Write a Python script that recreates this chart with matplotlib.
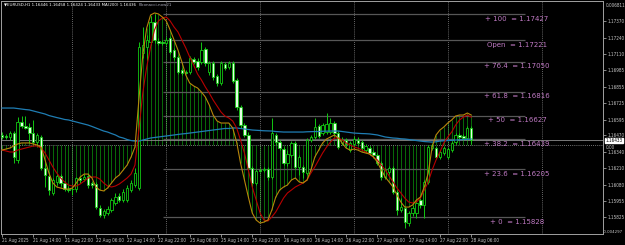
import numpy as np
import pandas as pd
import matplotlib
matplotlib.use("Agg")
import matplotlib.pyplot as plt
from matplotlib import font_manager as fm

# --- data (EURUSD H1) ---
times = pd.date_range("2025-08-21 06:00", "2025-08-22 23:00", freq="h").append(
    pd.date_range("2025-08-25 00:00", "2025-08-28 06:00", freq="h"))

opens = [
    1.16474, 1.16466, 1.16458, 1.16489, 1.16277, 1.16576, 1.16545, 1.16537, 1.16489, 1.16418,
    1.16458, 1.16214, 1.16151, 1.16017, 1.16104, 1.16151, 1.16096, 1.16052, 1.16050, 1.16048,
    1.16135, 1.16127, 1.16151, 1.16096, 1.16088, 1.15899, 1.15843, 1.15859, 1.15883, 1.15938,
    1.15993, 1.15962, 1.15962, 1.16041, 1.16080, 1.16056, 1.17120, 1.17167, 1.17206, 1.17364,
    1.17214, 1.17210, 1.17198, 1.17238, 1.17143, 1.17088, 1.16986, 1.16970, 1.16970, 1.17072,
    1.17057, 1.17049, 1.17151, 1.16970, 1.17041, 1.16939, 1.16883, 1.17033, 1.17009, 1.17041,
    1.16907, 1.16694, 1.16552, 1.16474, 1.16214, 1.16096, 1.16198, 1.16198, 1.16206, 1.16143,
    1.16474, 1.16418, 1.16363, 1.16253, 1.16316, 1.16411, 1.16222, 1.16222, 1.16174, 1.16434,
    1.16458, 1.16545, 1.16489, 1.16497, 1.16497, 1.16568, 1.16489, 1.16411, 1.16434, 1.16355,
    1.16403, 1.16434, 1.16418, 1.16355, 1.16371, 1.16340, 1.16316, 1.16253, 1.16143, 1.16182,
    1.16214, 1.16025, 1.15883, 1.15899, 1.15780, 1.15859, 1.15859, 1.15962, 1.15922, 1.16104,
    1.16371, 1.16371, 1.16300, 1.16332, 1.16300, 1.16355, 1.16418, 1.16474, 1.16466, 1.16450,
    1.16529]
highs = [
    1.16497, 1.16482, 1.16505, 1.16505, 1.16615, 1.16623, 1.16623, 1.16568, 1.16592, 1.16489,
    1.16474, 1.16277, 1.16182, 1.16135, 1.16166, 1.16166, 1.16111, 1.16072, 1.16064, 1.16143,
    1.16151, 1.16166, 1.16174, 1.16111, 1.16104, 1.15922, 1.15891, 1.15914, 1.15977, 1.16017,
    1.16017, 1.16048, 1.16080, 1.16119, 1.16214, 1.17206, 1.17324, 1.17261, 1.17410, 1.17427,
    1.17238, 1.17222, 1.17246, 1.17253, 1.17159, 1.17104, 1.17001, 1.16986, 1.17096, 1.17088,
    1.17080, 1.17206, 1.17167, 1.17057, 1.17057, 1.16954, 1.17057, 1.17049, 1.17057, 1.17057,
    1.16923, 1.16710, 1.16568, 1.16497, 1.16229, 1.16206, 1.16214, 1.16222, 1.16222, 1.16608,
    1.16489, 1.16434, 1.16379, 1.16355, 1.16426, 1.16426, 1.16316, 1.16237, 1.16450, 1.16474,
    1.16608, 1.16560, 1.16568, 1.16647, 1.16608, 1.16584, 1.16505, 1.16458, 1.16450, 1.16426,
    1.16466, 1.16458, 1.16434, 1.16403, 1.16387, 1.16355, 1.16332, 1.16269, 1.16214, 1.16229,
    1.16229, 1.16041, 1.15977, 1.15914, 1.15875, 1.15922, 1.15962, 1.15977, 1.16119, 1.16395,
    1.16411, 1.16387, 1.16355, 1.16387, 1.16379, 1.16426, 1.16489, 1.16489, 1.16482, 1.16545,
    1.16545]
lows = [
    1.16442, 1.16442, 1.16434, 1.16253, 1.16253, 1.16529, 1.16521, 1.16411, 1.16387, 1.16379,
    1.16198, 1.16064, 1.16001, 1.16001, 1.16080, 1.16072, 1.16033, 1.16025, 1.16001, 1.16025,
    1.16096, 1.16111, 1.16056, 1.16056, 1.15891, 1.15828, 1.15820, 1.15843, 1.15867, 1.15922,
    1.15946, 1.15946, 1.15946, 1.16025, 1.16064, 1.16041, 1.17080, 1.17064, 1.17183, 1.17198,
    1.17183, 1.17183, 1.17183, 1.17112, 1.17064, 1.16954, 1.16946, 1.16954, 1.16954, 1.17033,
    1.16986, 1.17033, 1.17017, 1.16946, 1.16907, 1.16860, 1.16867, 1.16986, 1.16994, 1.16883,
    1.16671, 1.16529, 1.16458, 1.16198, 1.16064, 1.16080, 1.16182, 1.16182, 1.16119, 1.16127,
    1.16395, 1.16355, 1.16237, 1.16229, 1.16300, 1.16206, 1.16159, 1.16135, 1.16159, 1.16418,
    1.16442, 1.16450, 1.16474, 1.16482, 1.16482, 1.16466, 1.16363, 1.16395, 1.16379, 1.16340,
    1.16387, 1.16395, 1.16355, 1.16340, 1.16316, 1.16292, 1.16237, 1.16119, 1.16127, 1.16166,
    1.16009, 1.15843, 1.15867, 1.15741, 1.15757, 1.15835, 1.15820, 1.15899, 1.15820, 1.16088,
    1.16355, 1.16285, 1.16285, 1.16316, 1.16285, 1.16340, 1.16403, 1.16442, 1.16434, 1.16434,
    1.16403]
closes = [
    1.16458, 1.16455, 1.16489, 1.16300, 1.16576, 1.16545, 1.16529, 1.16489, 1.16418, 1.16474,
    1.16214, 1.16159, 1.16041, 1.16119, 1.16151, 1.16096, 1.16048, 1.16044, 1.16046, 1.16135,
    1.16119, 1.16143, 1.16080, 1.16080, 1.15906, 1.15843, 1.15875, 1.15891, 1.15962, 1.15985,
    1.15962, 1.16025, 1.16056, 1.16096, 1.16174, 1.17167, 1.17183, 1.17222, 1.17364, 1.17222,
    1.17198, 1.17200, 1.17222, 1.17127, 1.17088, 1.16970, 1.16962, 1.16964, 1.17080, 1.17049,
    1.17009, 1.17143, 1.17041, 1.17041, 1.16931, 1.16883, 1.17041, 1.17001, 1.17041, 1.16899,
    1.16694, 1.16552, 1.16474, 1.16214, 1.16096, 1.16190, 1.16190, 1.16206, 1.16143, 1.16489,
    1.16418, 1.16371, 1.16253, 1.16324, 1.16411, 1.16222, 1.16300, 1.16182, 1.16434, 1.16458,
    1.16537, 1.16466, 1.16552, 1.16560, 1.16568, 1.16489, 1.16379, 1.16434, 1.16403, 1.16411,
    1.16442, 1.16411, 1.16371, 1.16387, 1.16332, 1.16316, 1.16253, 1.16143, 1.16198, 1.16214,
    1.16025, 1.15883, 1.15906, 1.15788, 1.15859, 1.15899, 1.15938, 1.15922, 1.16104, 1.16379,
    1.16395, 1.16300, 1.16340, 1.16371, 1.16363, 1.16411, 1.16474, 1.16458, 1.16450, 1.16529,
    1.16433]

ma_fast = [
    1.16355, 1.16363, 1.16371, 1.16387, 1.16403, 1.16411, 1.16411, 1.16411, 1.16403, 1.16395,
    1.16379, 1.16277, 1.16174, 1.16096, 1.16064, 1.16056, 1.16048, 1.16048, 1.16056, 1.16096,
    1.16143, 1.16166, 1.16166, 1.16135, 1.16064, 1.16040, 1.16033, 1.16056, 1.16096, 1.16135,
    1.16159, 1.16198, 1.16237, 1.16300, 1.16379, 1.16749, 1.17104, 1.17316, 1.17419, 1.17435,
    1.17427, 1.17403, 1.17372, 1.17301, 1.17222, 1.17143, 1.17049, 1.16946, 1.16883, 1.16860,
    1.16844, 1.16812, 1.16773, 1.16710, 1.16631, 1.16584, 1.16568, 1.16568, 1.16568, 1.16529,
    1.16418, 1.16253, 1.16119, 1.15985, 1.15859, 1.15804, 1.15780, 1.15788, 1.15804, 1.15883,
    1.15985, 1.16040, 1.16064, 1.16080, 1.16119, 1.16135, 1.16104, 1.16096, 1.16119, 1.16198,
    1.16300, 1.16355, 1.16411, 1.16442, 1.16458, 1.16474, 1.16450, 1.16411, 1.16371, 1.16355,
    1.16363, 1.16355, 1.16340, 1.16332, 1.16324, 1.16300, 1.16261, 1.16198, 1.16143, 1.16104,
    1.16064, 1.16001, 1.15946, 1.15906, 1.15906, 1.15922, 1.15962, 1.15985, 1.16064, 1.16174,
    1.16379, 1.16474, 1.16513, 1.16537, 1.16568, 1.16592, 1.16623, 1.16631, 1.16631, 1.16647,
    1.16631]
ma_slow = [
    1.16355, 1.16348, 1.16340, 1.16340, 1.16355, 1.16363, 1.16371, 1.16379, 1.16387, 1.16387,
    1.16371, 1.16332, 1.16277, 1.16222, 1.16174, 1.16135, 1.16104, 1.16080, 1.16072, 1.16072,
    1.16088, 1.16111, 1.16135, 1.16143, 1.16143, 1.16127, 1.16096, 1.16072, 1.16064, 1.16072,
    1.16088, 1.16111, 1.16135, 1.16166, 1.16237, 1.16513, 1.16804, 1.17009, 1.17167, 1.17301,
    1.17372, 1.17395, 1.17403, 1.17372, 1.17324, 1.17285, 1.17222, 1.17159, 1.17088, 1.17025,
    1.16954, 1.16907, 1.16852, 1.16804, 1.16749, 1.16702, 1.16655, 1.16623, 1.16608, 1.16584,
    1.16529, 1.16434, 1.16332, 1.16198, 1.16064, 1.15962, 1.15859, 1.15804, 1.15796, 1.15828,
    1.15867, 1.15922, 1.15977, 1.16017, 1.16040, 1.16064, 1.16080, 1.16096, 1.16119, 1.16174,
    1.16222, 1.16277, 1.16332, 1.16379, 1.16418, 1.16450, 1.16450, 1.16434, 1.16411, 1.16395,
    1.16379, 1.16371, 1.16355, 1.16340, 1.16324, 1.16300, 1.16277, 1.16237, 1.16198, 1.16151,
    1.16104, 1.16056, 1.16017, 1.15977, 1.15946, 1.15938, 1.15946, 1.15977, 1.16040, 1.16104,
    1.16198, 1.16277, 1.16340, 1.16411, 1.16458, 1.16497, 1.16552, 1.16592, 1.16615, 1.16631,
    1.16615]
ma_200 = [
    1.16686, 1.16686, 1.16686, 1.16686, 1.16682, 1.16678, 1.16674, 1.16671, 1.16663, 1.16655,
    1.16647, 1.16639, 1.16627, 1.16619, 1.16611, 1.16604, 1.16596, 1.16592, 1.16584, 1.16576,
    1.16568, 1.16560, 1.16552, 1.16541, 1.16529, 1.16517, 1.16505, 1.16497, 1.16485, 1.16474,
    1.16458, 1.16450, 1.16438, 1.16430, 1.16426, 1.16426, 1.16434, 1.16442, 1.16450, 1.16454,
    1.16458, 1.16462, 1.16466, 1.16470, 1.16474, 1.16478, 1.16482, 1.16485, 1.16489, 1.16493,
    1.16497, 1.16501, 1.16505, 1.16509, 1.16513, 1.16517, 1.16521, 1.16525, 1.16525, 1.16529,
    1.16529, 1.16525, 1.16521, 1.16517, 1.16513, 1.16511, 1.16509, 1.16507, 1.16506, 1.16505,
    1.16501, 1.16499, 1.16497, 1.16497, 1.16497, 1.16497, 1.16497, 1.16497, 1.16499, 1.16500,
    1.16501, 1.16501, 1.16503, 1.16504, 1.16505, 1.16505, 1.16505, 1.16501, 1.16497, 1.16493,
    1.16489, 1.16487, 1.16485, 1.16484, 1.16482, 1.16478, 1.16474, 1.16466, 1.16458, 1.16454,
    1.16450, 1.16448, 1.16444, 1.16442, 1.16438, 1.16434, 1.16430, 1.16426, 1.16422, 1.16420,
    1.16418, 1.16420, 1.16426, 1.16428, 1.16430, 1.16432, 1.16434, 1.16436, 1.16438, 1.16440,
    1.16442]
# oscillator histogram (own scale, 0 = dotted line)
hist = [
    -0.000244, -0.000195, -0.000146, -0.000049, 0.000049, 0.000097, 0.000097, 0.000097, 0.000049, -0.000020,
    -0.000097, -0.000731, -0.001364, -0.001851, -0.002046, -0.002095, -0.002144, -0.002144, -0.002095, -0.001851,
    -0.001559, -0.001413, -0.001413, -0.001608, -0.002046, -0.002192, -0.002241, -0.002095, -0.001851, -0.001608,
    -0.001462, -0.001218, -0.000974, -0.000585, -0.000097, 0.002192, 0.004385, 0.005700, 0.006334, 0.006431,
    0.006382, 0.006236, 0.006041, 0.005603, 0.005116, 0.004628, 0.004044, 0.003410, 0.003021, 0.002874,
    0.002777, 0.002582, 0.002339, 0.001949, 0.001462, 0.001169, 0.001072, 0.001072, 0.001072, 0.000828,
    0.000146, -0.000877, -0.001705, -0.002533, -0.003313, -0.003654, -0.003800, -0.003751, -0.003654, -0.003167,
    -0.002533, -0.002192, -0.002046, -0.001949, -0.001705, -0.001608, -0.001803, -0.001851, -0.001705, -0.001218,
    -0.000585, -0.000244, 0.000097, 0.000292, 0.000390, 0.000487, 0.000341, 0.000097, -0.000146, -0.000244,
    -0.000195, -0.000244, -0.000341, -0.000390, -0.000438, -0.000585, -0.000828, -0.001218, -0.001559, -0.001803,
    -0.002046, -0.002436, -0.002777, -0.003021, -0.003021, -0.002923, -0.002680, -0.002533, -0.002046, -0.001364,
    -0.000097, 0.000487, 0.000731, 0.000877, 0.001072, 0.001218, 0.001413, 0.001462, 0.001462, 0.001559,
    0.001462]

fib_names = ["+ 100", "Open", "+ 76.4", "+ 61.8", "+ 50", "+ 38.2", "+ 23.6", "+ 0"]
fib_levels = [1.17427, 1.17221, 1.17050, 1.16816, 1.16627, 1.16439, 1.16205, 1.15828]

price_ticks = [1.17370, 1.17240, 1.17110, 1.16985, 1.16855, 1.16725, 1.16595,
               1.16470, 1.16340, 1.16210, 1.16080, 1.15955, 1.15825]
osc_max, osc_min = 0.006811, -0.004297

header = "\u25bcEURUSD,H1 1.16446 1.16458 1.16424 1.16433 MA(200) 1.16436"
header2 = "Fibonacci-now21"

# --- fonts ---
names = {f.name for f in fm.fontManager.ttflist}
if "Liberation Sans Narrow" in names:
    plt.rcParams["font.family"] = ["Liberation Sans Narrow", "DejaVu Sans"]
    fs = 3.9
else:
    plt.rcParams["font.family"] = ["DejaVu Sans"]
    plt.rcParams["font.stretch"] = "condensed"
    fs = 3.3

o = np.array(opens); h = np.array(highs); l = np.array(lows); c = np.array(closes)
idx = np.arange(len(o))

W, H = 625, 245
fig = plt.figure(figsize=(W / 100, H / 100), dpi=100, facecolor="black")
rect = [1 / W, 11 / H, 602 / W, 233 / H]
ax_osc = fig.add_axes(rect, facecolor="black")
ax = fig.add_axes(rect, sharex=ax_osc)
ax.patch.set_visible(False)

ax_osc.set_xlim(-0.26, 153.7)
ax_osc.set_ylim(-0.004336, 0.007016)
ax.set_ylim(1.15694, 1.17529)

# oscillator histogram + zero line
ax_osc.vlines(idx, 0, hist, color="#0a7d0a", lw=0.6)
ax_osc.axhline(0, color="#9a9a9a", lw=0.6, ls=(0, (1, 1.5)))
for s in ax_osc.spines.values():
    s.set_visible(False)
ax_osc.set_yticks([])
ax_osc.tick_params(axis="x", which="both", length=0, labelbottom=False)

# day separators
days = [i for i, t in enumerate(times) if t.hour == 0]
days.append(days[-1] + 24)
for d in days:
    ax.axvline(d, color="#8a8a8a", lw=0.6, ls=(0, (1, 1.5)), zorder=1)

# fibonacci levels
fib_x0, fib_x1, fib_lx = 41.2, 133.8, 131.7
ax.hlines(fib_levels, fib_x0, fib_x1, color="#575757", lw=0.9, zorder=1)
for nm, lv in zip(fib_names, fib_levels):
    ax.annotate(f"{nm}  = {lv:.5f}", (fib_lx, lv), xytext=(0, -3.3),
                textcoords="offset points", ha="center", va="center",
                color="#c07ac4", fontsize=5.0, family="DejaVu Sans",
                fontstretch="normal", zorder=6)

# bid line
ax.axhline(c[-1], color="#8c8c8c", lw=0.6, zorder=1)

# candles
lime = "#12c812"
ax.vlines(idx, l, h, color=lime, lw=0.7, zorder=3)
lo = np.minimum(o, c)
bh = np.maximum(np.abs(c - o), 0.00003)
up = c >= o
ax.bar(idx[up], bh[up], bottom=lo[up], width=0.6, color="black",
       edgecolor=lime, lw=0.6, zorder=4)
ax.bar(idx[~up], bh[~up], bottom=lo[~up], width=0.6, color="#e4ffe4",
       edgecolor=lime, lw=0.6, zorder=4)

# moving averages
ax.plot(idx, ma_200, color="#1f7db3", lw=0.9, zorder=5)
ax.plot(idx, ma_slow, color="#b80000", lw=0.8, zorder=5)
ax.plot(idx, ma_fast, color="#b8860b", lw=0.8, zorder=5)

# axes styling
for side in ["left", "bottom", "right", "top"]:
    ax.spines[side].set_color("#a0a0a0")
    ax.spines[side].set_linewidth(0.7)
ax.yaxis.tick_right()
ax.set_yticks(price_ticks)
ax.set_yticklabels([f"{p:.5f}" for p in price_ticks])
ax.tick_params(axis="y", colors="#a0a0a0", labelcolor="#c8c8c8",
               labelsize=fs, length=2, width=0.6, pad=1.5)

lab_idx = list(range(0, len(times), 8))
labels = [times[0].strftime("%d %b %Y")] + [times[i].strftime("%d %b %H:%M") for i in lab_idx[1:]]
ax.set_xticks(lab_idx)
ax.set_xticklabels(labels)
ax.tick_params(axis="x", colors="#a0a0a0", labelcolor="#c8c8c8",
               labelsize=fs, length=2, width=0.6, pad=1.0)
for t in ax.get_xticklabels():
    t.set_ha("left")

# oscillator scale labels and bid box
ax_osc.annotate(f"{osc_max:.6f}", (1, osc_max), xycoords=("axes fraction", "data"),
                xytext=(1.8, 0), textcoords="offset points", ha="left", va="center",
                color="#c8c8c8", fontsize=fs, annotation_clip=False)
ax_osc.annotate("0.00", (1, 0.0), xycoords=("axes fraction", "data"),
                xytext=(1.8, -1.9), textcoords="offset points", ha="left", va="center",
                color="#c8c8c8", fontsize=fs, annotation_clip=False)
ax_osc.annotate(f"{osc_min:.6f}", (1, osc_min), xycoords=("axes fraction", "data"),
                xytext=(0.2, 0.8), textcoords="offset points", ha="left", va="center",
                color="#c8c8c8", fontsize=fs * 0.95, annotation_clip=False)
ax.annotate(f"{c[-1]:.5f}", (1, c[-1]), xycoords=("axes fraction", "data"),
            xytext=(1.8, -0.4), textcoords="offset points", ha="left", va="center",
            color="black", fontsize=fs, annotation_clip=False, zorder=10,
            bbox=dict(boxstyle="square,pad=0.05", fc="white", ec="white"))

fig.text(4 / W, 1 - 5 / H, header, color="white", fontsize=fs * 0.95, va="center")
fig.text(139 / W, 1 - 5 / H, header2, color="#a8a8b8", fontsize=fs * 0.95, va="center")

fig.savefig("out.png", dpi=100, facecolor="black")
